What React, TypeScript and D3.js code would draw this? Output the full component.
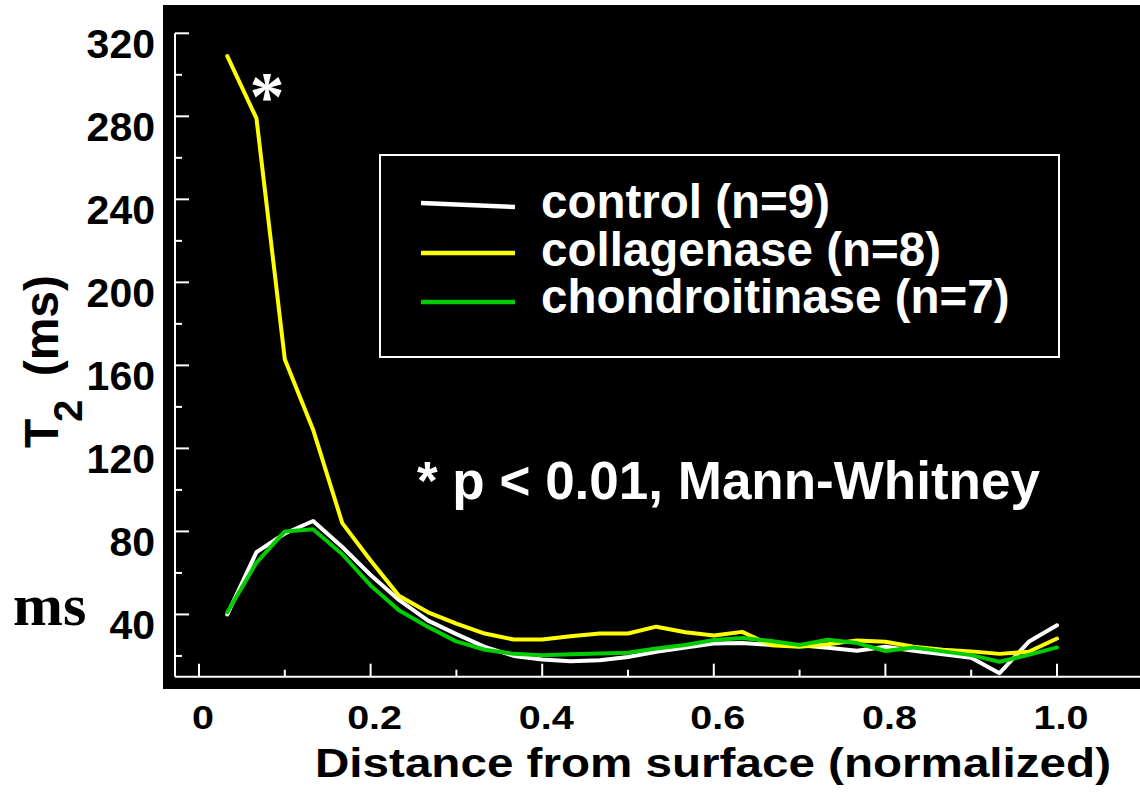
import React from 'react';
import * as d3 from 'd3';

const distances = [0.033, 0.067, 0.1, 0.133, 0.167, 0.2, 0.233, 0.267, 0.3, 0.333, 0.367, 0.4, 0.433, 0.467, 0.5, 0.533, 0.567, 0.6, 0.633, 0.667, 0.7, 0.733, 0.767, 0.8, 0.833, 0.867, 0.9, 0.933, 0.967, 1.0];
const controlT2 = [40, 70, 79, 85, 72.5, 59, 47, 37, 30.5, 24.4, 20, 18.3, 17.5, 17.9, 19.5, 22, 24, 26, 26.2, 25.3, 25.2, 24, 22.5, 24.4, 22.5, 20.8, 19.1, 11.7, 26.8, 34.8];
const collagenaseT2 = [309, 279, 163, 129, 84, 66, 49, 41, 35.6, 30.8, 27.9, 27.9, 29.5, 30.8, 30.8, 34.1, 31.4, 29.9, 31.6, 25.2, 24.4, 25.6, 27.5, 26.8, 24.4, 23, 22.2, 21, 22, 28.4];
const chondroitinaseT2 = [41, 65, 80, 81, 69, 54, 42, 34, 27, 23, 21, 20.3, 20.8, 21.2, 21.5, 23.6, 25.3, 27.7, 28.7, 27.2, 25.3, 27.8, 26.2, 22.4, 24.1, 22.2, 20.4, 17.2, 20.5, 24.1];

const seriesNames = ['control (n=9)', 'collagenase (n=8)', 'chondroitinase (n=7)'];
const seriesColors = ['#ffffff', '#ffff00', '#00cc00'];
const seriesValues = [controlT2, collagenaseT2, chondroitinaseT2];

const yMajorTicks = [40, 80, 120, 160, 200, 240, 280, 320];
const yMinorTicks = [20, 60, 100, 140, 180, 220, 260, 300];
const xMajorTicks = [0, 0.2, 0.4, 0.6, 0.8, 1.0];
const xMinorTicks = [0.1, 0.3, 0.5, 0.7, 0.9];
const xTickLabels = ['0', '0.2', '0.4', '0.6', '0.8', '1.0'];

const SANS = '"Liberation Sans", Arial, Helvetica, sans-serif';
const SERIF = '"Liberation Serif", "Times New Roman", serif';

export default function App() {
  const x = d3.scaleLinear().domain([0, 1]).range([199, 1057]);
  const y = d3.scaleLinear().domain([10, 320]).range([676.7, 33.3]);
  const axisX = 175;
  const axisY = y(10);

  const line = d3
    .line<[number, number]>()
    .x((d) => x(d[0]))
    .y((d) => y(d[1]))
    .curve(d3.curveLinear);

  const legendLineY = [[203, 207], [253, 253], [302, 302]];
  const legendBaselines = [218, 266, 313];

  return (
    <svg
      width={1140}
      height={797}
      style={{ position: 'absolute', left: 0, top: 0, background: '#ffffff' }}
    >
      <rect x={163} y={5} width={977} height={684} fill="#000000" />

      {/* axes */}
      <line x1={axisX} x2={axisX} y1={y(320)} y2={axisY} stroke="#fff" strokeWidth={2} />
      <line x1={axisX} x2={1140} y1={axisY} y2={axisY} stroke="#fff" strokeWidth={2} />
      {yMajorTicks.map((v) => (
        <line key={'ym' + v} x1={axisX} x2={axisX + 14} y1={y(v)} y2={y(v)} stroke="#fff" strokeWidth={2} />
      ))}
      {yMinorTicks.map((v) => (
        <line key={'yn' + v} x1={axisX} x2={axisX + 7} y1={y(v)} y2={y(v)} stroke="#fff" strokeWidth={2} />
      ))}
      {xMajorTicks.map((v) => (
        <line key={'xm' + v} x1={x(v)} x2={x(v)} y1={axisY} y2={axisY - 13} stroke="#fff" strokeWidth={2} />
      ))}
      {xMinorTicks.map((v) => (
        <line key={'xn' + v} x1={x(v)} x2={x(v)} y1={axisY} y2={axisY - 7} stroke="#fff" strokeWidth={2} />
      ))}

      {/* y tick labels */}
      {yMajorTicks.map((v) => (
        <text
          key={'yl' + v}
          x={155}
          y={y(v) + 25}
          textAnchor="end"
          fontFamily={SANS}
          fontWeight="bold"
          fontSize={41}
          fill="#000"
        >
          {v}
        </text>
      ))}

      {/* x tick labels */}
      {xMajorTicks.map((v, i) => (
        <text
          key={'xl' + v}
          transform={`translate(${x(v) + 4},729) scale(1.18,1)`}
          textAnchor="middle"
          fontFamily={SANS}
          fontWeight="bold"
          fontSize={33.5}
          fill="#000"
        >
          {xTickLabels[i]}
        </text>
      ))}

      {/* x title */}
      <text
        transform="translate(315,777) scale(1.19,1)"
        fontFamily={SANS}
        fontWeight="bold"
        fontSize={40}
        fill="#000"
      >
        Distance from surface (normalized)
      </text>

      {/* y title: T with subscript 2, then (ms) */}
      <text
        transform="translate(58,448) rotate(-90)"
        fontFamily={SANS}
        fontWeight="bold"
        fontSize={48}
        fill="#000"
      >
        T
      </text>
      <text
        transform="translate(82,422) rotate(-90)"
        fontFamily={SANS}
        fontWeight="bold"
        fontSize={40}
        fill="#000"
      >
        2
      </text>
      <text
        transform="translate(58,275) rotate(-90)"
        textAnchor="end"
        fontFamily={SANS}
        fontWeight="bold"
        fontSize={48}
        fill="#000"
      >
        (ms)
      </text>

      {/* ms serif label */}
      <text x={13} y={625} fontFamily={SERIF} fontWeight="bold" fontSize={60} fill="#000">
        ms
      </text>

      {/* series lines */}
      {seriesValues.map((vals, si) => (
        <path
          key={'s' + si}
          d={line(distances.map((d, i) => [d, vals[i]] as [number, number])) || ''}
          fill="none"
          stroke={seriesColors[si]}
          strokeWidth={4}
          strokeLinejoin="round"
          strokeLinecap="round"
        />
      ))}

      {/* significance asterisk */}
      <text x={267} y={120} textAnchor="middle" fontFamily={SERIF} fontWeight="bold" fontSize={70} fill="#fff">
        *
      </text>

      {/* legend */}
      <rect x={380} y={155} width={679} height={202} fill="none" stroke="#fff" strokeWidth={2} />
      {seriesNames.map((name, i) => (
        <g key={'lg' + i}>
          <line
            x1={421}
            x2={515}
            y1={legendLineY[i][0]}
            y2={legendLineY[i][1]}
            stroke={seriesColors[i]}
            strokeWidth={4.5}
          />
          <text x={541} y={legendBaselines[i]} fontFamily={SANS} fontWeight="bold" fontSize={47.5} fill="#fff">
            {name}
          </text>
        </g>
      ))}

      <text x={417} y={499} fontFamily={SANS} fontWeight="bold" fontSize={53} fill="#fff">
        * p &lt; 0.01, Mann-Whitney
      </text>
    </svg>
  );
}
